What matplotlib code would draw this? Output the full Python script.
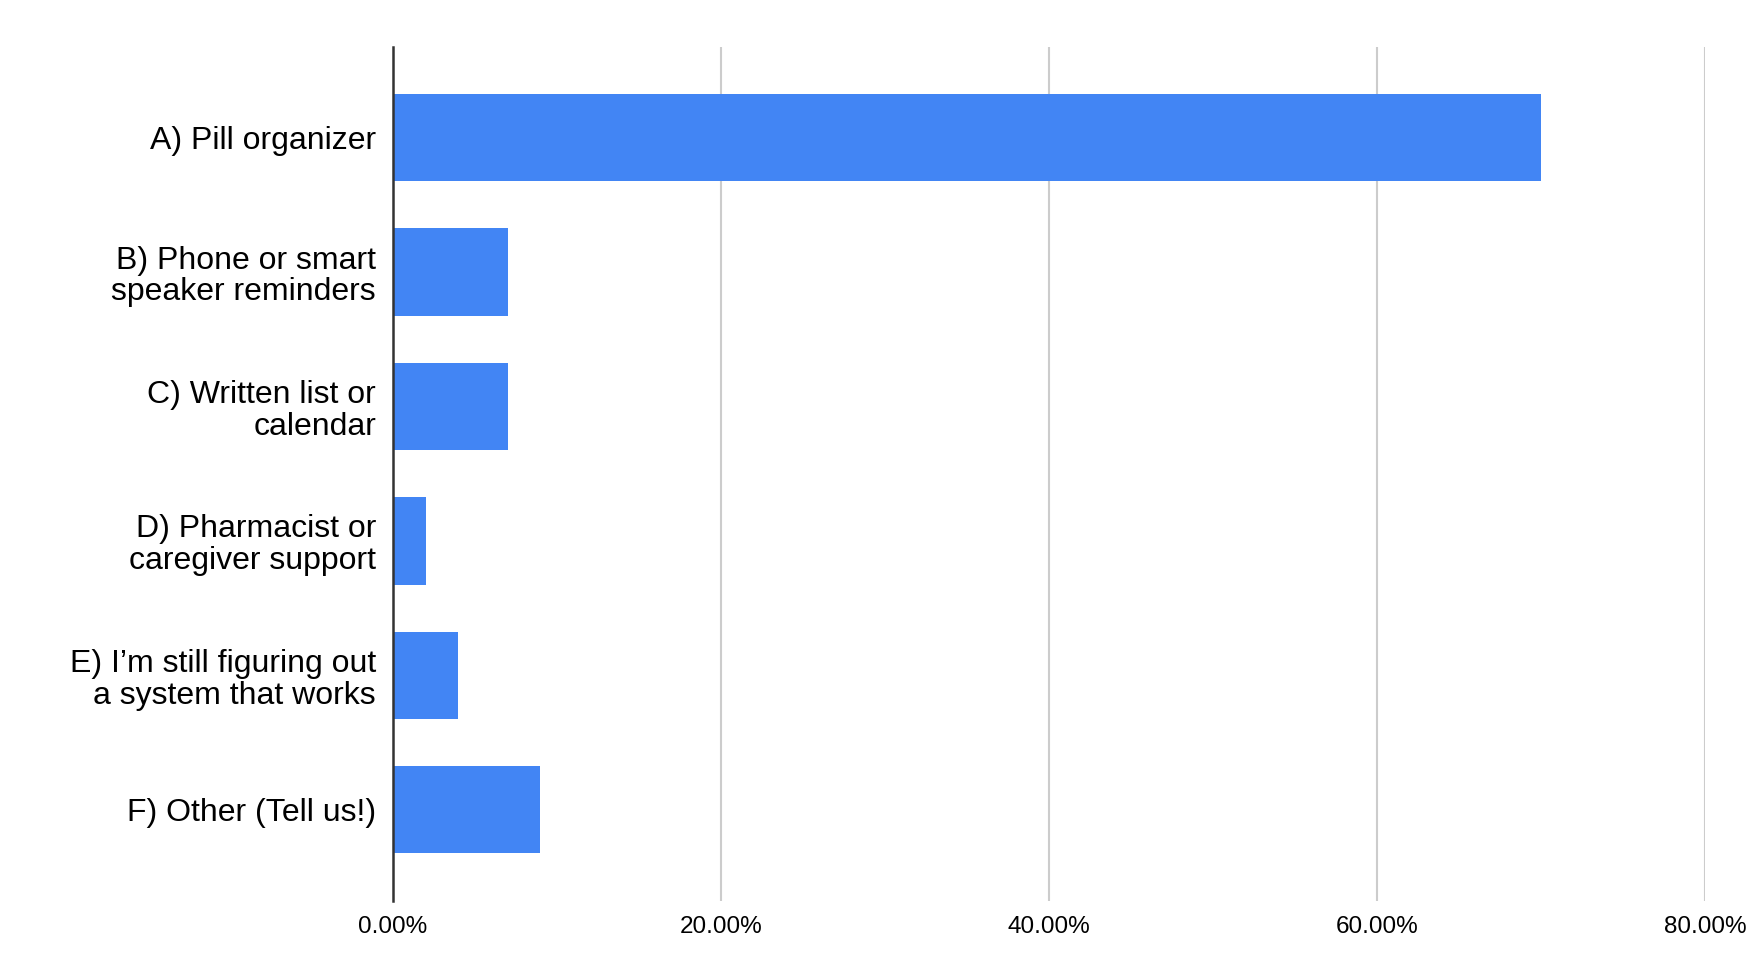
"""Horizontal bar chart of medication reminder methods."""

import matplotlib
matplotlib.use("Agg")
import matplotlib.pyplot as plt
from matplotlib import ticker

categories = [
    "A) Pill organizer",
    "B) Phone or smart\nspeaker reminders",
    "C) Written list or\ncalendar",
    "D) Pharmacist or\ncaregiver support",
    "E) I\u2019m still figuring out\na system that works",
    "F) Other (Tell us!)",
]
shares = [70.0, 7.0, 7.0, 2.0, 4.0, 9.0]
x_ticks = [0, 20, 40, 60, 80]

plt.rcParams['font.family'] = ['Liberation Sans', 'DejaVu Sans']

fig = plt.figure(figsize=(17.5, 9.8), dpi=100)
ax = fig.add_axes([0.2244, 0.0809, 0.7499, 0.8714])

positions = list(range(len(categories)))
ax.barh(positions, shares, height=0.65, color="#4285F4", zorder=3)

ax.set_ylim(len(categories) - 1 + 0.677, -0.677)
ax.set_xlim(0, 80)
ax.set_yticks(positions)
ax.set_yticklabels(categories, fontsize=23, linespacing=1.08)
ax.set_xticks(x_ticks)
ax.xaxis.set_major_formatter(ticker.FuncFormatter(lambda v, p: "%.2f%%" % v))
ax.tick_params(axis="x", length=0, pad=11, labelsize=17.5)
ax.tick_params(axis="y", length=0, pad=12)

ax.grid(axis="x", color="#cccccc", linewidth=1.5, zorder=0)
ax.grid(axis="y", visible=False)
for side in ("top", "right", "bottom"):
    ax.spines[side].set_visible(False)
ax.spines["left"].set_color("#333333")
ax.spines["left"].set_linewidth(1.8)
ax.spines["left"].set_zorder(4)

plt.savefig("out.png", dpi=100)
